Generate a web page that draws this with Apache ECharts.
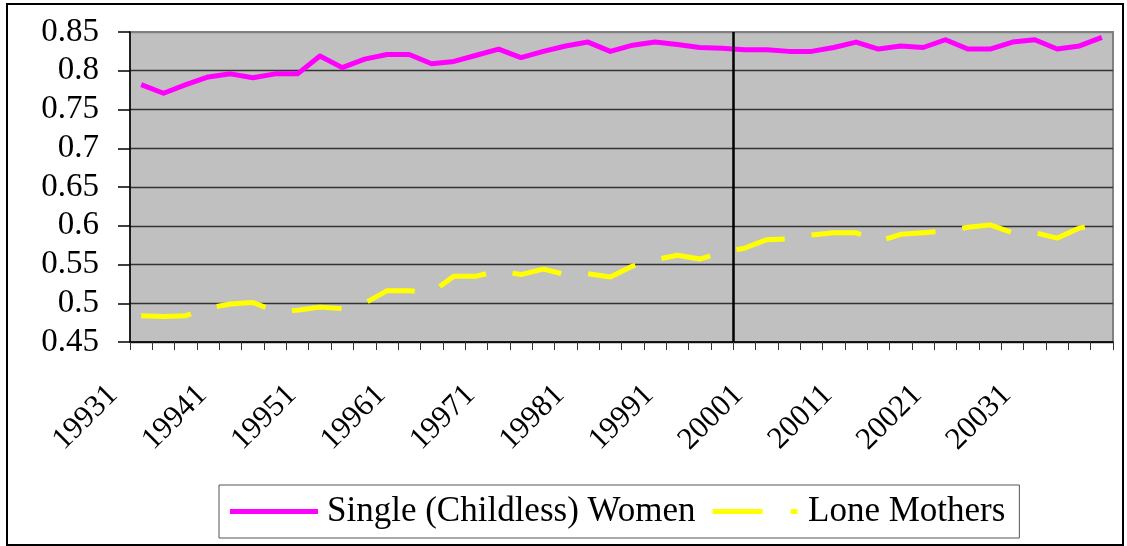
<!DOCTYPE html>
<html>
<head>
<meta charset="utf-8">
<script src="https://cdn.jsdelivr.net/npm/echarts@6/dist/echarts.min.js"></script>
<style>
  html, body { margin: 0; padding: 0; background: #ffffff; }
  #chart { width: 1127px; height: 546px; }
</style>
</head>
<body>
<div id="chart"></div>
<script>
// ---- data ----
const categories = [
  '19931','19932','19933','19934','19941','19942','19943','19944',
  '19951','19952','19953','19954','19961','19962','19963','19964',
  '19971','19972','19973','19974','19981','19982','19983','19984',
  '19991','19992','19993','19994','20001','20002','20003','20004',
  '20011','20012','20013','20014','20021','20022','20023','20024',
  '20031','20032','20033','20034'
];
const singleChildlessWomen = [
  0.782, 0.771, 0.782, 0.792, 0.796, 0.791, 0.796, 0.796,
  0.819, 0.804, 0.815, 0.821, 0.821, 0.809, 0.812, 0.820,
  0.828, 0.817, 0.825, 0.832, 0.837, 0.825, 0.833, 0.837,
  0.834, 0.830, 0.829, 0.827, 0.827, 0.825, 0.825, 0.830,
  0.837, 0.828, 0.832, 0.830, 0.840, 0.828, 0.828, 0.837,
  0.840, 0.828, 0.832, 0.843
];
const loneMothers = [
  0.484, 0.483, 0.484, 0.494, 0.499, 0.501, 0.490, 0.491,
  0.495, 0.493, 0.500, 0.516, 0.516, 0.514, 0.535, 0.535,
  0.542, 0.537, 0.544, 0.537, 0.538, 0.534, 0.548, 0.556,
  0.562, 0.557, 0.566, 0.571, 0.582, 0.583, 0.588, 0.591,
  0.591, 0.580, 0.589, 0.591, 0.593, 0.598, 0.601, 0.591,
  0.591, 0.584, 0.597, 0.603
];
const seriesNames = ['Single (Childless) Women', 'Lone Mothers'];
const seriesColors = ['#FF00FF', '#FFFF00'];
const yTicks = { min: 0.45, max: 0.85, step: 0.05 };
const breakBoundary = 27; // vertical marker between categories 19993 and 19994

// ---- chart ----
const FONT = "'Liberation Serif', 'Times New Roman', serif";
const chart = echarts.init(document.getElementById('chart'), null, { renderer: 'canvas' });

const gridLineColors = ['#333', '#333', '#333', '#333', '#333', '#333', '#333', '#333', '#808080'];

chart.setOption({
  animation: false,
  backgroundColor: '#ffffff',
  graphic: [{
    type: 'rect',
    shape: { x: 7, y: 4, width: 1116, height: 541 },
    style: { fill: 'none', stroke: '#000', lineWidth: 2 },
    silent: true,
    z: 100
  }],
  grid: {
    left: 130, right: 14, top: 32, bottom: 204,
    show: true,
    backgroundColor: '#C0C0C0',
    borderColor: '#808080',
    borderWidth: 2
  },
  legend: {
    data: [
      { name: seriesNames[0], icon: 'path://M0,0H90V5H0Z',
        itemStyle: { color: seriesColors[0], borderWidth: 0, opacity: 1 },
        lineStyle: { width: 0, opacity: 0 } },
      { name: seriesNames[1], icon: 'path://M0,0H50V5H0ZM78,0H85V5H78Z',
        itemStyle: { color: seriesColors[1], borderWidth: 0, opacity: 1 },
        lineStyle: { width: 0, opacity: 0 } }
    ],
    left: 219,
    top: 485,
    orient: 'horizontal',
    itemWidth: 88,
    itemHeight: 5,
    itemGap: 17,
    padding: [9, 14, 9, 11],
    borderColor: '#555',
    borderWidth: 1,
    backgroundColor: '#ffffff',
    textStyle: { fontFamily: FONT, fontSize: 35, color: '#000', padding: [0, 0, 0, 4] }
  },
  xAxis: [{
    type: 'category',
    data: categories,
    boundaryGap: true,
    axisLine: { show: true, lineStyle: { color: '#000', width: 1.5 } },
    axisTick: { show: true, interval: 0, length: 8, lineStyle: { color: '#333', width: 1 } },
    axisLabel: {
      interval: 3,
      rotate: 45,
      margin: 20,
      padding: [0, 40, 0, 0],
      fontFamily: FONT,
      fontSize: 31,
      color: '#000'
    },
    splitLine: { show: false }
  }, {
    type: 'value',
    min: 0,
    max: categories.length,
    show: false
  }],
  yAxis: {
    type: 'value',
    min: yTicks.min,
    max: yTicks.max,
    interval: yTicks.step,
    axisLine: { show: true, lineStyle: { color: '#000', width: 1.5 } },
    axisTick: { show: true, length: 12, lineStyle: { color: '#000', width: 1.5 } },
    axisLabel: {
      margin: 31,
      fontFamily: FONT,
      fontSize: 33,
      color: '#000',
      formatter: v => String(+v.toFixed(2))
    },
    splitLine: { show: true, lineStyle: { color: gridLineColors, width: 1.3 } }
  },
  series: [{
    name: seriesNames[0],
    type: 'line',
    data: singleChildlessWomen,
    symbol: 'none',
    lineStyle: { color: seriesColors[0], width: 5, join: 'round' },
    itemStyle: { color: seriesColors[0] },
    z: 3
  }, {
    name: seriesNames[1],
    type: 'line',
    data: loneMothers,
    symbol: 'none',
    lineStyle: { color: seriesColors[1], width: 5, type: [50, 27] },
    itemStyle: { color: seriesColors[1] },
    z: 3
  }, {
    name: 'break',
    type: 'line',
    xAxisIndex: 1,
    data: [],
    markLine: {
      silent: true,
      symbol: 'none',
      label: { show: false },
      lineStyle: { color: '#000', width: 2.5, type: 'solid' },
      data: [{ xAxis: breakBoundary }]
    },
    z: 4
  }]
});
</script>
</body>
</html>
